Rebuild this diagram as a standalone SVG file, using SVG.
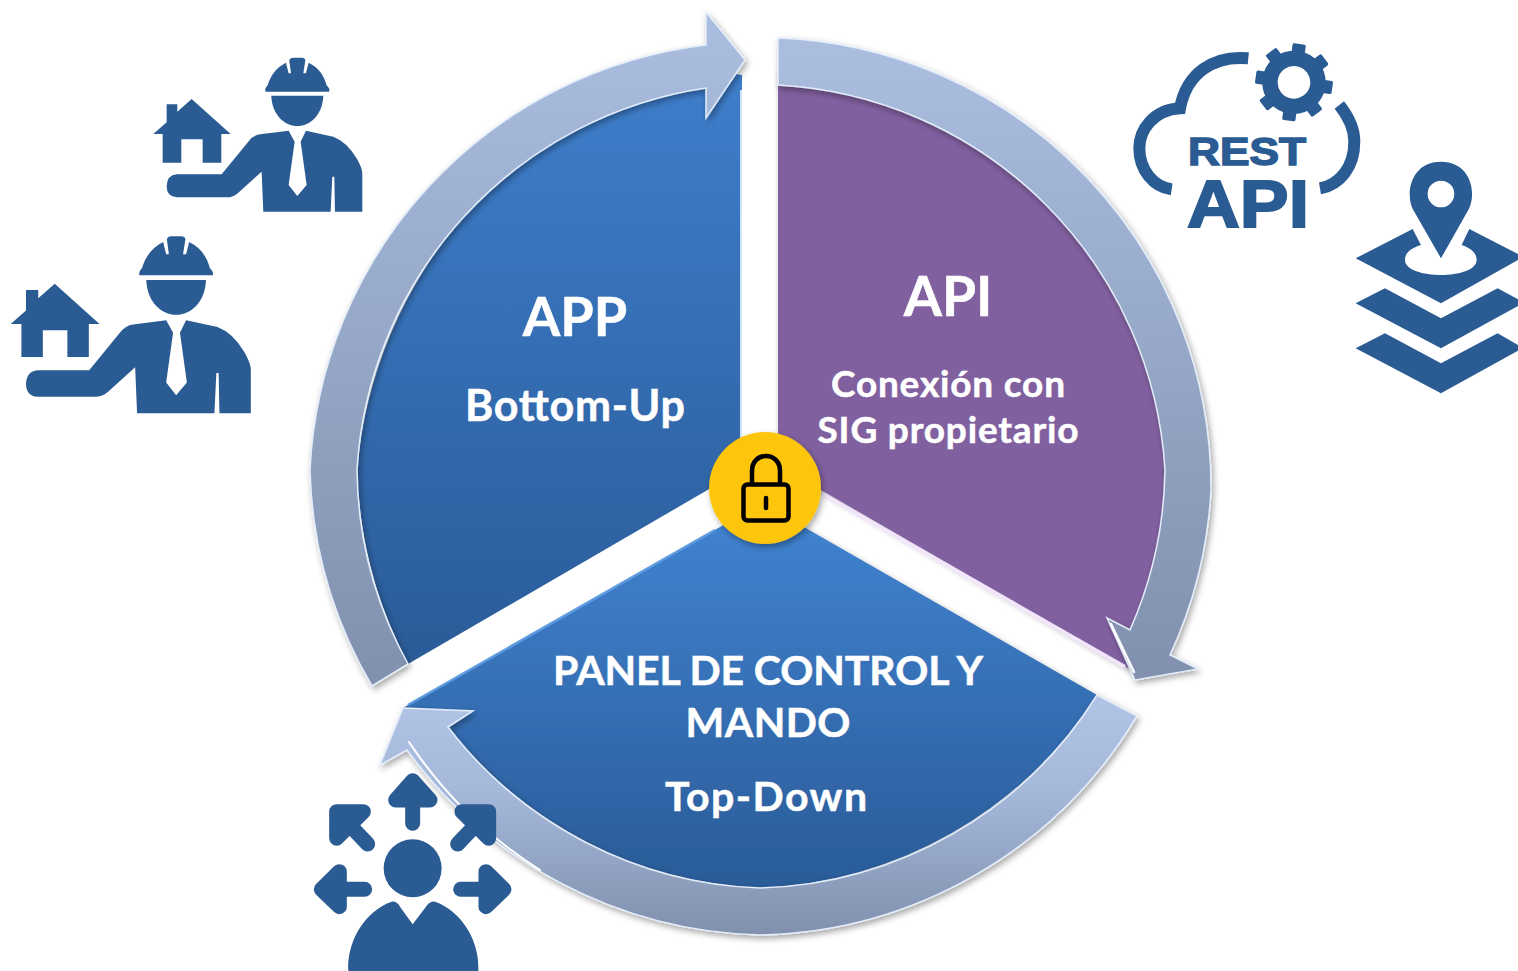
<svg xmlns="http://www.w3.org/2000/svg" xmlns:xlink="http://www.w3.org/1999/xlink" width="1518" height="971" viewBox="0 0 1518 971">
<style>
.ic{fill:#2a5b93}
.t{font-family:"Lato","Carlito","Liberation Sans",sans-serif;font-weight:700;fill:#fff;stroke:#fff;stroke-width:.5;text-anchor:middle}
.ar{fill:none;stroke:#2a5b93;stroke-width:45;stroke-linecap:round;stroke-linejoin:round}
.ring{stroke:#e3edfa;stroke-width:1.500;filter:url(#sh)}
.bevel{fill:none;stroke:#fff;stroke-linecap:round}
.lk{fill:none;stroke:#000;stroke-width:4.500}
</style>
<defs>
<linearGradient id="gb" x1="0" y1="0" x2="0" y2="1"><stop offset="0" stop-color="#3e7ecb"/><stop offset="1" stop-color="#2a5b98"/></linearGradient>
<linearGradient id="gr" x1="0" y1="0" x2="0" y2="1"><stop offset="0" stop-color="#abbee0"/><stop offset="1" stop-color="#8090ad"/></linearGradient>
<linearGradient id="gb3" x1="0" y1="0" x2="0" y2="1"><stop offset="0" stop-color="#4184d2"/><stop offset="1" stop-color="#2a5b98"/></linearGradient>
<linearGradient id="gr3" x1="0" y1="0" x2="0" y2="1"><stop offset="0" stop-color="#b2c4e6"/><stop offset=".4" stop-color="#a5b8da"/><stop offset="1" stop-color="#8090ad"/></linearGradient>
<filter id="sh" x="-10%" y="-10%" width="120%" height="120%"><feDropShadow dx="2" dy="3" stdDeviation="3" flood-color="#000" flood-opacity=".35"/></filter>
<g id="worker">
<path d="M797,155Q792,148 803,136C812,105 830,82 858,68L866,100L873,100L868,62Q868,54 880,53L905,53Q917,54 916,62L910,100L918,100L926,68C955,82 972,105 980,136Q992,148 987,155Z"/>
<path d="M814,167L970,167C968,225 930,258 892,258C854,258 816,225 814,167Z"/>
<path d="M790,515L785,395L715,458Q700,472 680,472L530,472Q500,470 500,438Q502,405 530,403L665,403L745,305Q760,285 780,283L866,272L884,305L866,435L892,468L920,435L902,305L918,272L1000,290Q1040,305 1070,355Q1087,385 1087,400L1087,515L1005,515L1003,410L997,410L992,515Z"/>
<path d="M460,282L500,247L500,193L532,193L532,215L575,177L692,282L664,282L664,368L608,368L608,298L544,298L544,368L488,368L488,282Z"/>
</g>
</defs>

<g id="node-app">
<path d="M742,470V75L706,70A450,450 0 0 0 357,470A450,450 0 0 0 408,664Z" fill="url(#gb)"/>
<path d="M741,90V440" fill="none" stroke="#cfe4fb" stroke-width="2"/>
<text class="t" x="575" y="336" font-size="54">APP</text>
<text class="t" x="575" y="421" font-size="43" textLength="220">Bottom-Up</text>
</g>

<g id="node-api">
<path d="M778,465V70L900,95A420,420 0 0 1 1165,470A420,420 0 0 1 1130,668L1128,668Z" fill="#81619f" filter="url(#sh)"/>
<path d="M822,494L1125,667" fill="none" stroke="#f1e6fa" stroke-width="4"/>
<text class="t" x="948" y="316" font-size="55">API</text>
<text class="t" x="948" y="397" font-size="37" textLength="234">Conexión con</text>
<text class="t" x="948" y="443" font-size="37" textLength="261">SIG propietario</text>
</g>

<g id="node-panel">
<path d="M762,503L1097,695A420,420 0 0 1 760,888A420,420 0 0 1 448,727L403,708Z" fill="url(#gb3)" filter="url(#sh)"/>
<path d="M408,705L715,530" fill="none" stroke="#5c9be0" stroke-width="2.500"/>
<text class="t" x="768" y="685" font-size="41" textLength="430">PANEL DE CONTROL Y</text>
<text class="t" x="768" y="737" font-size="41" textLength="165">MANDO</text>
<text class="t" x="766" y="811" font-size="41" textLength="202">Top-Down</text>
</g>

<g id="connectors">
<path id="arc-app" class="ring" d="M372,686A450,450 0 0 1 310,470A450,450 0 0 1 706,45L706,12L745,60L706,118L706,88A410,410 0 0 0 357,470A410,410 0 0 0 408,664Z" fill="url(#gr)"/>
<path id="arc-api" class="ring" d="M778,38A450,450 0 0 1 1211,490A450,450 0 0 1 1170,655L1198,669L1135,680L1107,618L1130,630A410,410 0 0 0 1165,470A410,410 0 0 0 778,85Z" fill="url(#gr)"/>
<path id="arc-panel" class="ring" d="M1137,716A450,450 0 0 1 760,935A450,450 0 0 1 407,750L380,765L403,708L473,711L448,727A410,410 0 0 0 760,888A410,410 0 0 0 1097,695Z" fill="url(#gr3)"/>
<path class="bevel" d="M1111,624L1134,672" stroke-width="2.500"/>
<path class="bevel" d="M409,742A440,440 0 0 0 540,870" stroke-width="2"/>
</g>

<g id="node-lock">
<circle cx="765" cy="488" r="56" fill="#fdc60a" filter="url(#sh)"/>
<rect class="lk" x="743.500" y="484.500" width="45" height="36" rx="4"/>
<path class="lk" d="M752,484V471C752,451 780,451 780,471V484"/>
<path class="lk" d="M766,498V508" stroke-linecap="round"/>
</g>

<g id="icon-worker-1" class="ic" transform="translate(0,40) scale(.3333)"><use xlink:href="#worker" href="#worker"/></g>
<g id="icon-worker-2" class="ic" transform="translate(-165.500,216) scale(.383)"><use xlink:href="#worker" href="#worker"/></g>

<g id="icon-rest-api">
<g transform="translate(1120,30) scale(.3333)">
<path d="M385,85C280,75 200,130 180,235C100,240 58,300 58,355C58,420 100,470 155,478" fill="none" stroke="#2a5b93" stroke-width="36"/>
<path d="M658,225C690,265 703,300 703,335C703,410 660,465 600,475" fill="none" stroke="#2a5b93" stroke-width="36"/>
<g transform="translate(522,157) rotate(8)">
<circle r="72" fill="none" stroke="#2a5b93" stroke-width="46"/>
<g class="ic">
<rect x="-20" y="-116" width="40" height="40" rx="5"/>
<rect x="-20" y="-116" width="40" height="40" rx="5" transform="rotate(45)"/>
<rect x="-20" y="-116" width="40" height="40" rx="5" transform="rotate(90)"/>
<rect x="-20" y="-116" width="40" height="40" rx="5" transform="rotate(135)"/>
<rect x="-20" y="-116" width="40" height="40" rx="5" transform="rotate(180)"/>
<rect x="-20" y="-116" width="40" height="40" rx="5" transform="rotate(225)"/>
<rect x="-20" y="-116" width="40" height="40" rx="5" transform="rotate(270)"/>
<rect x="-20" y="-116" width="40" height="40" rx="5" transform="rotate(315)"/>
</g>
</g>
</g>
<text font-family="Liberation Sans,sans-serif" font-weight="700" fill="#2a5b93" stroke="#2a5b93"><tspan x="1188" y="165" font-size="39" stroke-width="1.500" textLength="118" lengthAdjust="spacingAndGlyphs">REST</tspan> <tspan x="1187" y="227" font-size="67" stroke-width="2" textLength="122" lengthAdjust="spacingAndGlyphs">API</tspan></text>
</g>

<g id="icon-map-layers" class="ic" transform="translate(1120,30) scale(.3333)">
<path fill-rule="evenodd" d="M963,685L880,540C855,495 870,395 963,395C1056,395 1071,495 1045,540ZM963,452A40,40 0 1 0 963,532A40,40 0 1 0 963,452Z"/>
<path d="M707,685L878,597L903,645C870,655 855,670 855,690C855,720 910,735 963,735C1016,735 1070,720 1070,690C1070,670 1055,655 1025,645L1048,597L1194,672L1194,690L963,820Z"/>
<path d="M707,820L795,775L963,865L1133,775L1194,808L1194,828L963,955Z"/>
<path d="M707,955L795,910L963,1000L1133,910L1194,945L1194,962L963,1090Z"/>
</g>

<g id="icon-person-arrows" transform="translate(300,690) scale(.3333)">
<circle class="ic" cx="338" cy="535" r="87"/>
<path class="ic" d="M145,843C140,760 190,665 275,635Q290,633 300,650L338,703L378,650Q390,633 405,635C490,665 540,760 535,843Z"/>
<g class="ar">
<path d="M338,400V300"/><path class="ic" d="M287,330L338,272L390,330Z"/>
<path d="M130,385L203,462"/><path class="ic" d="M110,365L190,365L110,445Z"/>
<path d="M546,385L473,462"/><path class="ic" d="M566,365L486,365L566,445Z"/>
<path d="M482,598H590"/><path class="ic" d="M558,545L612,598L558,650Z"/>
<path d="M194,598H86"/><path class="ic" d="M118,545L64,598L118,650Z"/>
</g>
</g>
</svg>
